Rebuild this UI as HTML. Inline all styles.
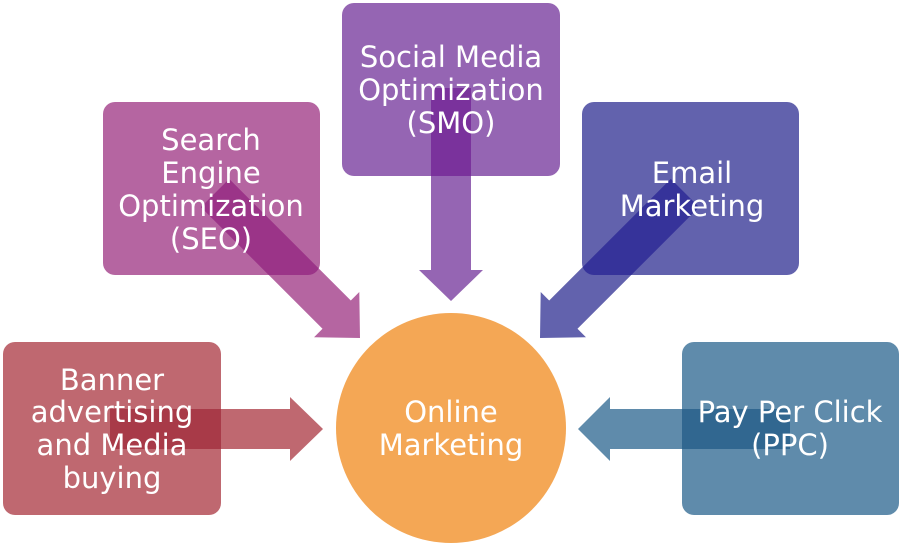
<!DOCTYPE html>
<html><head><style>
body{margin:0;background:#fff;width:900px;height:544px;overflow:hidden}
svg text{font-family:"DejaVu Sans","Liberation Sans",sans-serif;font-size:29px;fill:#fff;text-anchor:middle}
</style></head><body>
<svg width="900" height="544" viewBox="0 0 900 544" xmlns="http://www.w3.org/2000/svg">
<defs>
<clipPath id="bx">
<rect x="3" y="342" width="218" height="173" rx="12"/>
<rect x="103" y="102" width="217" height="173" rx="12"/>
<rect x="342" y="3" width="218" height="173" rx="12"/>
<rect x="582" y="102" width="217" height="173" rx="12"/>
<rect x="682" y="342" width="217" height="173" rx="12"/>
</clipPath>
</defs>
<rect x="3" y="342" width="218" height="173" rx="12" fill="#bf6870"/>
<rect x="103" y="102" width="217" height="173" rx="12" fill="#b565a1"/>
<rect x="342" y="3" width="218" height="173" rx="12" fill="#9565b3"/>
<rect x="582" y="102" width="217" height="173" rx="12" fill="#6262ad"/>
<rect x="682" y="342" width="217" height="173" rx="12" fill="#5f8bab"/>
<circle cx="451" cy="428" r="115" fill="#f4a755"/>
<polygon points="110,409 290,409 290,397 323,429 290,461 290,449 110,449" fill="#bf6870"/>
<polygon points="790,409 610,409 610,397 578,429 610,461 610,449 790,449" fill="#5f8bab"/>
<polygon points="431,88 471,88 471,270 483,270 451,301 419,270 431,270" fill="#9565b3"/>
<polygon transform="translate(360,338) rotate(45)" points="0,0 -33,-32 -33,-20 -205,-20 -205,20 -33,20 -33,32" fill="#b565a1"/>
<polygon transform="translate(540,338) rotate(135)" points="0,0 -33,-32 -33,-20 -205,-20 -205,20 -33,20 -33,32" fill="#6262ad"/>
<g clip-path="url(#bx)">
<polygon points="110,409 290,409 290,397 323,429 290,461 290,449 110,449" fill="#a83a48"/>
<polygon points="790,409 610,409 610,397 578,429 610,461 610,449 790,449" fill="#316790"/>
<polygon points="431,88 471,88 471,270 483,270 451,301 419,270 431,270" fill="#7a329c"/>
<polygon transform="translate(360,338) rotate(45)" points="0,0 -33,-32 -33,-20 -205,-20 -205,20 -33,20 -33,32" fill="#9b3488"/>
<polygon transform="translate(540,338) rotate(135)" points="0,0 -33,-32 -33,-20 -205,-20 -205,20 -33,20 -33,32" fill="#36339a"/>
</g>
<text x="112" y="390">Banner</text><text x="112" y="422">advertising</text><text x="112" y="455">and Media</text><text x="112" y="488">buying</text>
<text x="211" y="150">Search</text><text x="211" y="183">Engine</text><text x="211" y="216">Optimization</text><text x="211" y="249">(SEO)</text>
<text x="451" y="67">Social Media</text><text x="451" y="100">Optimization</text><text x="451" y="133">(SMO)</text>
<text x="692" y="183">Email</text><text x="692" y="216">Marketing</text>
<text x="790" y="422">Pay Per Click</text><text x="790" y="455">(PPC)</text>
<text x="451" y="422">Online</text><text x="451" y="455">Marketing</text>
</svg>
</body></html>
